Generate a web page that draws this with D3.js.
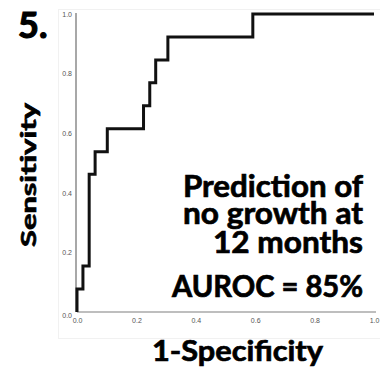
<!DOCTYPE html>
<html>

<head>
    <meta charset="utf-8">
    <style>
        body {
            margin: 0;
            background: #fff;
        }

        svg {
            display: block;
        }

        .tick text {
            font-family: 'Liberation Sans', Arial, sans-serif;
            font-size: 7px;
            fill: #555;
        }

        .tick line {
            display: none;
        }

        .domain {
            stroke: #a8a8a8;
            stroke-width: 2px;
        }

        .big {
            font-family: Lato, 'Open Sans', sans-serif;
            font-weight: 700;
            fill: #000;
            stroke: #000;
            stroke-width: 0.7px;
        }
    </style>
</head>

<body>
    <svg width="380" height="370"></svg>

    <script src="https://cdnjs.cloudflare.com/ajax/libs/d3/7.8.5/d3.min.js"></script>
    <script>
        // ROC points (1-specificity, sensitivity), step after
        let fpr = [0, 0, 0.020, 0.041, 0.061, 0.102, 0.224, 0.245, 0.265, 0.306, 0.592, 1]
        let tpr = [0, 0.077, 0.154, 0.462, 0.538, 0.615, 0.692, 0.769, 0.846, 0.923, 1, 1]

        let xTicks = [0, 0.2, 0.4, 0.6, 0.8, 1.0]
        let yTicks = [0, 0.2, 0.4, 0.6, 0.8, 1.0]

        let noteLines = ["Prediction of", "no growth at", "12 months", "AUROC = 85%"]

        let svg = d3.select("svg")

        let margin = { top: 14, right: 6, bottom: 58, left: 77 }

        let x = d3.scaleLinear()
            .domain([0, 1])
            .range([margin.left, 374])

        let y = d3.scaleLinear()
            .domain([0, 1])
            .range([312, margin.top])

        // faint frame of the pasted plot
        svg.append("rect")
            .attr("x", 58.5)
            .attr("y", 9.5)
            .attr("width", 330)
            .attr("height", 329)
            .attr("fill", "none")
            .attr("stroke", "#f1f1f1")

        // axes
        svg.append("g")
            .attr("class", "x axis")
            .attr("transform", `translate(0,${y(0)})`)
            .call(d3.axisBottom(x)
                .tickValues(xTicks)
                .tickSize(0)
                .tickPadding(6)
                .tickFormat(d3.format(".1f")))
            .call(g => g.select(".domain").attr("d", `M${x(0)},0H${x(1) + 2}`).style("stroke-width", "1.5px"))

        svg.append("g")
            .attr("class", "y axis")
            .attr("transform", `translate(${x(0) - 1},0)`)
            .call(d3.axisLeft(y)
                .tickValues(yTicks)
                .tickSize(0)
                .tickPadding(4)
                .tickFormat(d3.format(".1f")))
            .call(g => g.select(".domain").attr("d", `M0,${y(0)}V${y(1) - 1}`))
            .call(g => g.selectAll(".tick").filter(d => d == 0).select("text").attr("dy", "0.8em"))

        // curve
        let points = fpr.map((f, i) => [f, tpr[i]])

        let line = d3.line()
            .x(d => x(d[0]))
            .y(d => y(d[1]))
            .curve(d3.curveStepAfter)

        svg.append("path")
            .datum(points)
            .attr("fill", "none")
            .attr("stroke", "#111")
            .attr("stroke-width", 3)
            .attr("d", line)

        // labels
        svg.append("text")
            .attr("class", "big")
            .attr("x", 18)
            .attr("y", 38)
            .style("font-size", "36px")
            .style("stroke-width", "1.2px")
            .text("5.")

        svg.append("text")
            .attr("class", "big")
            .attr("transform", "translate(36,175) rotate(-90)")
            .attr("text-anchor", "middle")
            .attr("textLength", 144)
            .attr("lengthAdjust", "spacingAndGlyphs")
            .style("font-size", "21px")
            .text("Sensitivity")

        svg.append("text")
            .attr("class", "big")
            .attr("x", 237.5)
            .attr("y", 361)
            .attr("text-anchor", "middle")
            .attr("textLength", 171)
            .attr("lengthAdjust", "spacingAndGlyphs")
            .style("font-size", "29px")
            .text("1-Specificity")

        let noteY = [197, 224, 253, 297]
        let noteW = [180, 180, 150, 191]

        svg.append("g")
            .selectAll("text")
            .data(noteLines)
            .join("text")
            .attr("class", "big")
            .attr("x", (d, i) => 363 - noteW[i])
            .attr("y", (d, i) => noteY[i])
            .attr("textLength", (d, i) => noteW[i])
            .attr("lengthAdjust", "spacingAndGlyphs")
            .style("font-size", "30px")
            .text(d => d)
    </script>
</body>

</html>
